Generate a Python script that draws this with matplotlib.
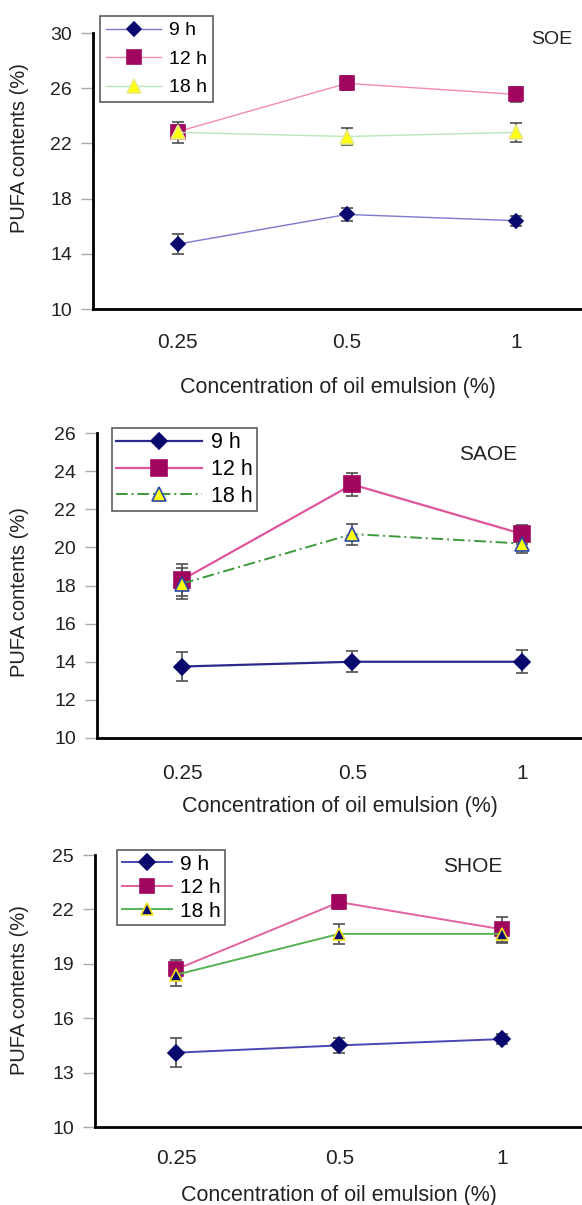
import matplotlib.pyplot as plt

plt.rcParams['font.family'] = ['Liberation Sans', 'DejaVu Sans']

conc = ['0.25', '0.5', '1']
hours = ['9 h', '12 h', '18 h']

# SOE panel
soe_mean = [[14.7, 16.85, 16.4], [22.85, 26.35, 25.55], [22.8, 22.5, 22.8]]
soe_err = [[0.7, 0.45, 0.35], [0.45, 0.5, 0.55], [0.75, 0.6, 0.7]]
# SAOE panel
saoe_mean = [[13.75, 14.0, 14.0], [18.3, 23.3, 20.7], [18.1, 20.7, 20.2]]
saoe_err = [[0.75, 0.55, 0.6], [0.85, 0.6, 0.5], [0.8, 0.55, 0.5]]
# SHOE panel
shoe_mean = [[14.1, 14.5, 14.85], [18.7, 22.4, 20.9], [18.4, 20.65, 20.65]]
shoe_err = [[0.8, 0.4, 0.3], [0.5, 0.4, 0.7], [0.65, 0.55, 0.5]]

panels = [
    dict(name='SOE', mean=soe_mean, err=soe_err, ylim=(10, 30), yticks=[10, 14, 18, 22, 26, 30],
         rect=[93, 33, 309], xmax=2.39, leg=(100, 16), legfs=14, hl=2.85, ls_sp=0.56, bp=0.3,
         label=(552, 39), labfs=14, ylab_y=148, tpad=17, lpad=18,
         lines=['#7b78cf', '#f48cab', '#b9e6b9'], lw=[1.0, 1.0, 1.0], ls=['-', '-', '-'],
         mk=[('D', '#0a0a6e', '#0a0a6e', 7.5), ('s', '#a0065e', '#a0065e', 10), ('^', '#ffff10', '#e8e890', 10)]),
    dict(name='SAOE', mean=saoe_mean, err=saoe_err, ylim=(10, 26), yticks=[10, 12, 14, 16, 18, 20, 22, 24, 26],
         rect=[97, 433, 738], xmax=2.35, leg=(112, 428), legfs=15.5, hl=4.0, ls_sp=0.27, bp=0.2,
         label=(488, 455), labfs=15, ylab_y=592, tpad=19, lpad=9,
         lines=['#2b2a8c', '#e0559b', '#3c9a3c'], lw=[1.6, 1.6, 1.4], ls=['-', '-', (0, (6, 2, 1, 2))],
         mk=[('D', '#0a0a6e', '#0a0a6e', 8.5), ('s', '#a0065e', '#a0065e', 11), ('^', '#ffff10', '#2a48a8', 10)]),
    dict(name='SHOE', mean=shoe_mean, err=shoe_err, ylim=(10, 25), yticks=[10, 13, 16, 19, 22, 25],
         rect=[95, 855, 1127], xmax=2.49, leg=(117, 850), legfs=15, hl=2.4, ls_sp=0.22, bp=0.22,
         label=(473, 866), labfs=15, ylab_y=990, tpad=16, lpad=12,
         lines=['#4a47b4', '#e2619f', '#55b455'], lw=[1.4, 1.4, 1.4], ls=['-', '-', '-'],
         mk=[('D', '#0a0a6e', '#0a0a6e', 8), ('s', '#a0065e', '#a0065e', 10), ('^', '#0a0a6e', '#f0e020', 9)]),
]

W, H = 582, 1205
fig = plt.figure(figsize=(W / 100, H / 100), dpi=100)

for p in panels:
    left, top, bottom = p['rect']
    ax = fig.add_axes([left / W, 1 - bottom / H, 1 - left / W, (bottom - top) / H])
    x = range(len(conc))
    for i, h in enumerate(hours):
        m, fc, ec, ms = p['mk'][i]
        ax.errorbar(x, p['mean'][i], yerr=p['err'][i], fmt='none', ecolor='#505050',
                    elinewidth=1.2, capsize=4.5, capthick=1.2, zorder=2)
        ax.plot(x, p['mean'][i], color=p['lines'][i], lw=p['lw'][i], ls=p['ls'][i],
                marker=m, markerfacecolor=fc, markeredgecolor=ec, markeredgewidth=1.2,
                markersize=ms, label=h, zorder=3)
    ax.set_xlim(-0.5, p['xmax'])
    ax.set_ylim(*p['ylim'])
    ax.set_yticks(p['yticks'])
    ax.set_xticks(list(x))
    ax.set_xticklabels(conc)
    ax.tick_params(axis='x', length=0, pad=p['tpad'], labelsize=15, labelcolor='#222222')
    ax.tick_params(axis='y', length=9, width=1, color='#aaaaaa', pad=6, labelsize=14, labelcolor='#222222')
    for s in ['top', 'right']:
        ax.spines[s].set_visible(False)
    for s in ['left', 'bottom']:
        ax.spines[s].set_linewidth(2)
        ax.spines[s].set_color('black')
    ax.set_xlabel('Concentration of oil emulsion (%)', fontsize=15.5, labelpad=p['lpad'], color='#222222')
    fig.text(20 / W, 1 - p['ylab_y'] / H, 'PUFA contents (%)', rotation=90, fontsize=14.5,
             ha='center', va='center', color='#222222')
    lx, ly = p['leg']
    leg = ax.legend(loc='upper left', bbox_to_anchor=(lx / W, 1 - ly / H), bbox_transform=fig.transFigure,
                    fontsize=p['legfs'], frameon=True, fancybox=False, edgecolor='#333333',
                    handlelength=p['hl'], borderpad=p['bp'], labelspacing=p['ls_sp'], handletextpad=0.4,
                    borderaxespad=0)
    leg.get_frame().set_linewidth(1.2)
    tx, ty = p['label']
    fig.text(tx / W, 1 - ty / H, p['name'], fontsize=p['labfs'], ha='center', va='center', color='#222222')

fig.savefig('out.png', dpi=100)
